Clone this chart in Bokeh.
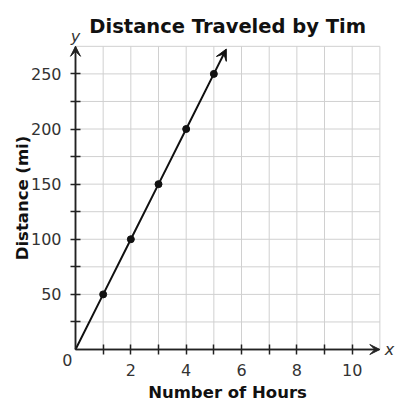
from bokeh.plotting import figure
from bokeh.models import FixedTicker, Label, Arrow, VeeHead, Range1d
from bokeh.embed import file_html
from bokeh.resources import INLINE

# ---- data ----
hours = [1, 2, 3, 4, 5]
distance = [50, 100, 150, 200, 250]
origin_x, origin_y = 0, 0
arrow_end_x, arrow_end_y = 5.45, 272.5   # where the line's arrow tip ends

x_ticks = [1, 2, 3, 4, 5, 6, 7, 8, 9, 10]
x_tick_labels = ["", "2", "", "4", "", "6", "", "8", "", "10"]
y_ticks = [25, 50, 75, 100, 125, 150, 175, 200, 225, 250]
y_tick_labels = ["", "50", "", "100", "", "150", "", "200", "", "250"]
x_max, y_max = 11, 275

title_text = "Distance Traveled by Tim"
x_title = "Number of Hours"
y_title = "Distance (mi)"

# ---- layout (pixels) ----
W, H = 400, 400
OX, OY = 0, 0            # where the canvas lands in the picture
X0_PX, Y0_PX = 75, 349   # picture position of the origin
PX_PER_X = 27.67
PX_PER_Y = 1.1025

x_start = -(X0_PX - OX) / PX_PER_X
x_end = x_start + W / PX_PER_X
y_end = (Y0_PX - OY) / PX_PER_Y
y_start = y_end - H / PX_PER_Y

FONT = "DejaVu Sans"
AXIS_COLOR = "#222222"
GRID_COLOR = "#d0d0d0"
TEXT_COLOR = "#333333"

p = figure(
    frame_width=W, frame_height=H,
    x_range=Range1d(x_start, x_end), y_range=Range1d(y_start, y_end),
    output_backend="svg", toolbar_location=None,
    min_border=0,
)
p.background_fill_color = "white"
p.border_fill_color = "white"
p.outline_line_color = None
p.xgrid.visible = False
p.ygrid.visible = False

# grid lines (bounded to the chart area)
grid_x = x_ticks + [x_max]
grid_y = y_ticks + [y_max]
p.segment(x0=grid_x, y0=[origin_y] * len(grid_x), x1=grid_x, y1=[y_max] * len(grid_x),
          line_color=GRID_COLOR, line_width=1)
p.segment(x0=[origin_x] * len(grid_y), y0=grid_y, x1=[x_max] * len(grid_y), y1=grid_y,
          line_color=GRID_COLOR, line_width=1)

# axes through the origin
p.xaxis.fixed_location = origin_y
p.yaxis.fixed_location = origin_x
p.xaxis.bounds = (origin_x, x_max)
p.yaxis.bounds = (origin_y, y_max)
p.xaxis.ticker = FixedTicker(ticks=x_ticks)
p.yaxis.ticker = FixedTicker(ticks=y_ticks)
p.xaxis.major_label_overrides = {t: l for t, l in zip(x_ticks, x_tick_labels)}
p.yaxis.major_label_overrides = {t: l for t, l in zip(y_ticks, y_tick_labels)}
for ax in (p.xaxis, p.yaxis):
    ax.axis_line_color = AXIS_COLOR
    ax.axis_line_width = 1.5
    ax.major_tick_line_color = AXIS_COLOR
    ax.major_tick_line_width = 1.5
    ax.major_tick_in = 5
    ax.major_tick_out = 5
    ax.minor_tick_line_color = None
    ax.major_label_text_font = FONT
    ax.major_label_text_font_size = "16px"
    ax.major_label_text_color = TEXT_COLOR
    ax.axis_label_text_font = FONT
    ax.axis_label_text_font_size = "16.5px"
    ax.axis_label_text_font_style = "bold"
    ax.axis_label_text_color = "#111111"
p.xaxis.axis_label = x_title
p.yaxis.axis_label = y_title
p.xaxis.major_label_standoff = 9
p.yaxis.major_label_standoff = 9
p.xaxis.axis_label_standoff = 4
p.yaxis.axis_label_standoff = -4

# axis arrowheads
p.add_layout(Arrow(end=VeeHead(size=10, fill_color=AXIS_COLOR, line_color=AXIS_COLOR),
                   x_start=origin_x, y_start=origin_y, x_end=x_max, y_end=origin_y,
                   line_color=AXIS_COLOR, line_width=1.5))
p.add_layout(Arrow(end=VeeHead(size=10, fill_color=AXIS_COLOR, line_color=AXIS_COLOR),
                   x_start=origin_x, y_start=origin_y, x_end=origin_x, y_end=y_max,
                   line_color=AXIS_COLOR, line_width=1.5))

# data line
line_x = [origin_x] + hours
line_y = [origin_y] + distance
p.line(line_x, line_y, line_color="#111111", line_width=2)
p.add_layout(Arrow(end=VeeHead(size=11, fill_color="#111111", line_color="#111111"),
                   x_start=hours[-1], y_start=distance[-1],
                   x_end=arrow_end_x, y_end=arrow_end_y,
                   line_color="#111111", line_width=2))
p.scatter(hours, distance, size=7, fill_color="#111111", line_color="#111111")

# title
p.add_layout(Label(x=x_max / 2, y=y_max, text=title_text, text_font=FONT,
                   text_font_size="19.5px", text_font_style="bold", text_color="#111111",
                   text_align="center", text_baseline="alphabetic", y_offset=20))

# axis letters and origin label
p.add_layout(Label(x=origin_x, y=y_max, text="y", text_font=FONT, text_font_size="16px",
                   text_font_style="italic", text_align="center", text_baseline="alphabetic",
                   y_offset=10, text_color=TEXT_COLOR))
p.add_layout(Label(x=x_max, y=origin_y, text="x", text_font=FONT, text_font_size="16px",
                   text_font_style="italic", text_align="left", text_baseline="middle",
                   x_offset=5, text_color=TEXT_COLOR))
p.add_layout(Label(x=origin_x, y=origin_y, text="0", text_font=FONT, text_font_size="16px",
                   text_align="right", text_baseline="top",
                   x_offset=-3, y_offset=-4, text_color=TEXT_COLOR))

open("out.html", "w").write(file_html(p, INLINE))
